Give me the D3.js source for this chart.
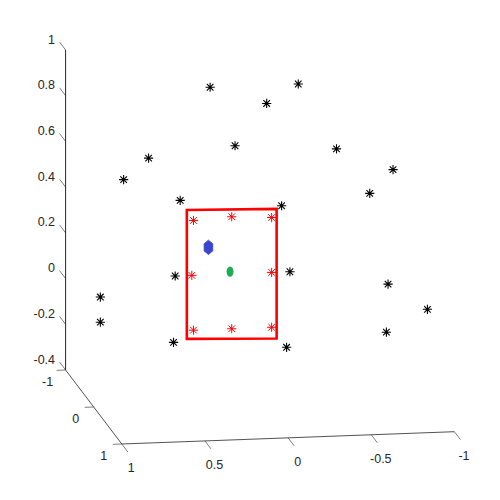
<!DOCTYPE html>
<html>
<head>
<meta charset="utf-8">
<script src="https://cdn.jsdelivr.net/npm/d3@7"></script>
<style>
  html, body { margin: 0; padding: 0; background: #fff; }
  svg { display: block; }
  text { font-family: "Liberation Sans", Arial, Helvetica, sans-serif; font-size: 12.5px; fill: #262626; }
</style>
</head>
<body>
<svg id="chart" width="500" height="500"></svg>
<script>
// ---------- data ----------
const xTicks = [1, 0.5, 0, -0.5, -1];
const xTickLabels = ["1", "0.5", "0", "-0.5", "-1"];
const yTicks = [-1, 0, 1];
const yTickLabels = ["-1", "0", "1"];
const zTicks = [-0.4, -0.2, 0, 0.2, 0.4, 0.6, 0.8, 1];
const zTickLabels = ["-0.4", "-0.2", "0", "0.2", "0.4", "0.6", "0.8", "1"];

// black points [x, y, z]
const blackX = [0.30, -0.23, -0.04, 0.15, 0.67, -0.46, 0.82, -0.80, -0.66, 0.48, -0.13, 0.51, -0.18, 0.96, 0.96, -0.77, -0.99, -0.76, 0.52, -0.16];
const blackY = [0, 0, 0, 0, 0, 0, 0, 0, 0, 0, 0, 0, 0, 0, 0, 0, 0.1, 0, 0, 0];
const blackZ = [0.98, 0.98, 0.90, 0.72, 0.68, 0.69, 0.59, 0.59, 0.49, 0.49, 0.45, 0.16, 0.16, 0.08, -0.03, 0.09, -0.01, -0.12, -0.13, -0.17];

// red points (grid in a plane)
const redX = [0.40, 0.17, -0.07, 0.41, -0.07, 0.40, 0.17, -0.07];
const redY = [0, 0, 0, 0, 0, 0, 0, 0];
const redZ = [0.40, 0.41, 0.40, 0.16, 0.16, -0.08, -0.08, -0.08];

// red rectangle corners
const rectX = [0.44, -0.10, -0.10, 0.44];
const rectY = [0, 0, 0, 0];
const rectZ = [0.447, 0.437, -0.13, -0.117];

// blue and green markers
const blueP = [0.31, 0, 0.28];
const greenP = [0.18, 0, 0.17];

// ---------- scales / projection ----------
const xScale = d3.scaleLinear().domain([1, -1]).range([0, 1]);
const yScale = d3.scaleLinear().domain([-1, 1]).range([0, 1]);
const zScale = d3.scaleLinear().domain([-0.4, 1]).range([0, 1]);

const C0 = [65.6, 370];          // screen position of (x=1, y=-1, z=-0.4)
const EX = [332.6, -12.3];       // screen vector of full x axis
const EY = [56.2, 74];           // screen vector of full y axis
const EZ = [0, -320];            // screen vector of full z axis

function project(x, y, z) {
  const a = xScale(x), b = yScale(y), c = zScale(z);
  return [C0[0] + a * EX[0] + b * EY[0] + c * EZ[0],
          C0[1] + a * EX[1] + b * EY[1] + c * EZ[1]];
}

const svg = d3.select("#chart");
const axisColor = "#262626";

// ---------- axes ----------
const gAx = svg.append("g");
function seg(p, q, w) {
  gAx.append("line").attr("x1", p[0]).attr("y1", p[1]).attr("x2", q[0]).attr("y2", q[1])
    .attr("stroke", axisColor).attr("stroke-width", w);
}
// z axis at x=1, y=-1
seg(project(1, -1, -0.4), project(1, -1, 1), 1);
// y axis at x=1, z=-0.4
seg(project(1, -1, -0.4), project(1, 1, -0.4), 0.8);
// x axis at y=1, z=-0.4
seg(project(1, 1, -0.4), project(-1, 1, -0.4), 0.8);

// z ticks (pointing along -y)
zTicks.forEach((t, i) => {
  const p = project(1, -1, t), q = project(1, -1.215, t);
  seg(p, q, 0.6);
  gAx.append("text").attr("x", q[0] - 4.5).attr("y", q[1] - 2.5)
    .attr("text-anchor", "end").attr("dominant-baseline", "central").text(zTickLabels[i]);
});
// y ticks (pointing along +x)
yTicks.forEach((t, i) => {
  const p = project(1, t, -0.4), q = project(1.054, t, -0.4);
  seg(p, q, 0.6);
  gAx.append("text").attr("x", q[0] - 9).attr("y", q[1] + 12)
    .attr("text-anchor", "middle").attr("dominant-baseline", "central").text(yTickLabels[i]);
});
// x ticks (pointing along +y)
xTicks.forEach((t, i) => {
  const p = project(t, 1, -0.4), q = project(t, 1.215, -0.4);
  seg(p, q, 0.6);
  gAx.append("text").attr("x", q[0] + 3.5).attr("y", q[1] + 16)
    .attr("text-anchor", "middle").attr("dominant-baseline", "central").text(xTickLabels[i]);
});

// ---------- markers ----------
function asterisk(g, p, color, w) {
  const r = 4.6, d = 3.3;
  const path = `M${p[0]},${p[1]-r}L${p[0]},${p[1]+r}M${p[0]-r},${p[1]}L${p[0]+r},${p[1]}` +
               `M${p[0]-d},${p[1]-d}L${p[0]+d},${p[1]+d}M${p[0]-d},${p[1]+d}L${p[0]+d},${p[1]-d}`;
  g.append("path").attr("d", path).attr("stroke", color).attr("stroke-width", w).attr("fill", "none");
}

const gBlack = svg.append("g");
blackX.forEach((x, i) => asterisk(gBlack, project(x, blackY[i], blackZ[i]), "#000", 1.1));

// red rectangle
const rectPts = rectX.map((x, i) => project(x, rectY[i], rectZ[i]));
svg.append("path")
  .attr("d", d3.line()(rectPts) + "Z")
  .attr("fill", "none").attr("stroke", "#f00").attr("stroke-width", 2.6)
  .attr("stroke-linejoin", "miter");

const gRed = svg.append("g");
redX.forEach((x, i) => asterisk(gRed, project(x, redY[i], redZ[i]), "#f00", 1.0));

// blue marker (filled hexagon-like)
const bp = project(...blueP);
const hex = d3.range(6).map(k => {
  const a = -Math.PI / 2 + k * Math.PI / 3;
  return [bp[0] + 5 * Math.cos(a), bp[1] + 7.2 * Math.sin(a)];
});
svg.append("path").attr("d", d3.line()(hex) + "Z").attr("fill", "#3a44cc").attr("stroke", "#3a44cc").attr("stroke-width", 0.8);

// green marker
const gp = project(...greenP);
svg.append("ellipse").attr("cx", gp[0]).attr("cy", gp[1]).attr("rx", 3.5).attr("ry", 5.2)
  .attr("fill", "#1fad52");
</script>
</body>
</html>
